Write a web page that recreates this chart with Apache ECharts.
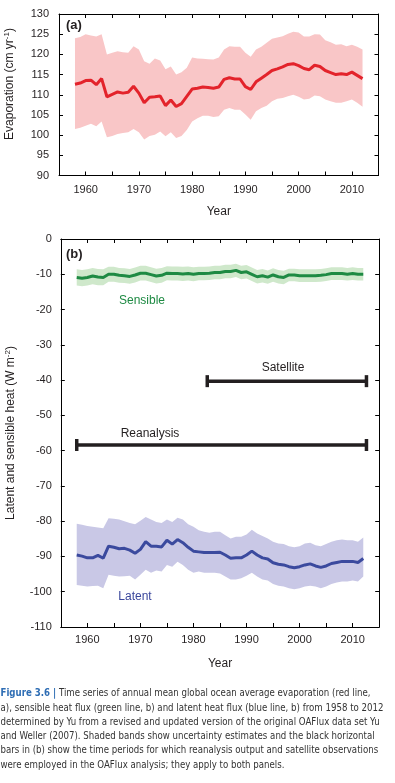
<!DOCTYPE html>
<html><head><meta charset="utf-8">
<script src="https://cdn.jsdelivr.net/npm/echarts@6/dist/echarts.min.js"></script>
<style>html,body{margin:0;padding:0;background:#fff}#c{width:395px;height:783px}</style>
</head><body><div id="c"></div>
<script>
var years = [1958,1959,1960,1961,1962,1963,1964,1965,1966,1967,1968,1969,1970,1971,1972,1973,1974,1975,1976,1977,1978,1979,1980,1981,1982,1983,1984,1985,1986,1987,1988,1989,1990,1991,1992,1993,1994,1995,1996,1997,1998,1999,2000,2001,2002,2003,2004,2005,2006,2007,2008,2009,2010,2011,2012];

var evap = [112.6,112.9,113.5,113.6,112.5,114.0,109.5,110.1,110.7,110.4,110.6,112.1,110.4,108.0,109.4,109.5,109.7,107.3,108.7,107.1,107.8,109.6,111.4,111.6,111.9,111.8,111.6,111.9,113.8,114.2,113.9,113.9,112.0,111.3,113.2,114.1,115.0,116.0,116.4,116.9,117.5,117.7,117.2,116.5,116.2,117.3,117.0,116.0,115.5,115.0,115.2,115.0,115.6,114.8,114.0];
var evapHi = [124.0,124.3,125.0,124.7,124.4,125.0,120.0,120.4,120.8,120.5,120.4,122.0,121.2,118.3,117.7,119.0,118.5,116.3,117.0,115.0,115.6,116.7,119.2,119.0,118.9,118.8,118.7,119.2,121.2,122.0,121.9,121.9,120.4,119.4,121.2,121.9,122.9,123.9,124.2,124.5,125.1,125.6,125.4,124.4,124.4,125.0,124.9,123.5,123.0,122.4,122.5,122.0,122.4,121.9,121.2];
var evapLo = [101.5,101.8,102.3,102.8,102.2,103.4,99.5,99.8,100.3,100.5,100.7,101.5,100.7,98.9,99.8,100.1,100.9,99.7,100.7,99.3,99.8,101.3,103.4,104.2,104.8,104.8,104.5,104.7,106.3,106.7,106.3,106.3,105.1,103.8,105.9,106.7,107.3,108.4,109.0,109.2,109.6,110.0,109.5,108.8,109.0,109.8,109.6,108.8,108.4,108.0,108.0,108.4,108.8,108.0,107.0];

var sensible = [-10.9,-11.1,-10.9,-10.5,-10.8,-10.9,-10.0,-10.0,-10.3,-10.4,-10.6,-10.2,-9.7,-9.7,-10.1,-10.5,-10.3,-9.7,-9.8,-9.8,-9.9,-9.8,-10.0,-9.8,-9.8,-9.7,-9.5,-9.5,-9.2,-9.2,-8.9,-9.5,-9.3,-10.0,-10.7,-10.4,-10.8,-10.2,-10.7,-10.9,-10.2,-10.2,-10.4,-10.4,-10.4,-10.4,-10.3,-10.1,-9.8,-9.8,-9.8,-10.0,-9.8,-10.0,-10.0];
var sensibleHi = [-8.6,-8.8,-8.6,-8.2,-8.5,-8.6,-7.9,-7.9,-8.2,-8.3,-8.5,-8.1,-7.6,-7.6,-8.0,-8.4,-8.2,-7.7,-7.8,-7.8,-7.9,-7.8,-8.0,-7.9,-7.9,-7.8,-7.6,-7.6,-7.3,-7.3,-7.0,-7.6,-7.4,-8.1,-8.8,-8.5,-8.9,-8.3,-8.8,-9.0,-8.4,-8.4,-8.6,-8.6,-8.6,-8.6,-8.5,-8.3,-8.0,-8.0,-8.0,-8.2,-8.0,-8.2,-8.2];
var sensibleLo = [-13.2,-13.4,-13.2,-12.8,-13.1,-13.1,-12.1,-12.1,-12.4,-12.5,-12.7,-12.3,-11.8,-11.8,-12.2,-12.6,-12.4,-11.7,-11.8,-11.8,-11.9,-11.8,-12.0,-11.7,-11.7,-11.6,-11.4,-11.4,-11.1,-11.1,-10.8,-11.4,-11.2,-11.9,-12.6,-12.3,-12.7,-12.1,-12.6,-12.8,-12.0,-12.0,-12.2,-12.2,-12.2,-12.2,-12.1,-11.9,-11.6,-11.6,-11.6,-11.8,-11.6,-11.8,-11.8];

var latent = [-89.6,-89.9,-90.4,-90.4,-89.7,-90.5,-87.1,-87.4,-87.8,-87.7,-88.2,-89.1,-88.0,-85.8,-87.1,-87.1,-87.3,-85.4,-86.5,-85.2,-86.1,-87.4,-88.5,-88.7,-88.9,-88.9,-88.9,-88.8,-89.6,-90.5,-90.4,-90.4,-89.6,-88.5,-89.6,-90.4,-90.7,-91.8,-92.2,-92.4,-92.9,-93.2,-92.9,-92.4,-92.1,-92.7,-93.1,-92.7,-92.0,-91.7,-91.4,-91.4,-91.4,-91.7,-90.6];
var latentHi = [-80.7,-81.0,-81.4,-81.6,-81.8,-82.0,-79.2,-79.3,-79.5,-80.0,-80.5,-80.9,-79.9,-78.8,-79.5,-80.2,-80.5,-79.5,-80.2,-79.0,-79.5,-80.9,-81.6,-82.6,-83.0,-83.3,-83.0,-83.0,-84.0,-84.9,-84.4,-84.4,-83.8,-82.4,-83.5,-84.2,-84.9,-85.8,-86.3,-86.5,-87.1,-87.4,-87.1,-86.3,-86.1,-86.8,-87.1,-86.5,-85.8,-85.4,-85.2,-85.4,-85.4,-85.8,-84.6];
var latentLo = [-98.1,-98.3,-98.5,-98.4,-98.3,-99.0,-95.2,-95.5,-95.7,-95.6,-95.5,-96.5,-95.2,-93.8,-94.6,-94.0,-94.3,-92.4,-92.9,-91.5,-92.4,-93.8,-94.6,-94.3,-94.6,-94.6,-94.6,-94.8,-95.7,-96.5,-96.5,-96.2,-95.5,-94.6,-95.7,-96.5,-96.8,-97.8,-98.3,-98.5,-99.0,-99.3,-99.0,-98.5,-98.3,-98.5,-99.0,-98.5,-97.8,-97.4,-97.1,-97.1,-96.8,-97.1,-95.7];

var reanalysisYears = [1958, 2012.6];
var reanalysisLevel = -58.4;
var satelliteYears = [1982.6, 2012.6];
var satelliteLevel = -40.3;

var yearLabels = [1960,1970,1980,1990,2000,2010];

var captionHead = "Figure 3.6 |";
var captionLines = [
  " Time series of annual mean global ocean average evaporation (red line,",
  "a), sensible heat flux (green line, b) and latent heat flux (blue line, b) from 1958 to 2012",
  "determined by Yu from a revised and updated version of the original OAFlux data set Yu",
  "and Weller (2007). Shaded bands show uncertainty estimates and the black horizontal",
  "bars in (b) show the time periods for which reanalysis output and satellite observations",
  "were employed in the OAFlux analysis; they apply to both panels."
];

var FONT = 'Liberation Sans, Arial, sans-serif';
var TXT = '#231f20';

function pairs(v){ return years.map(function(y,i){ return [y, v[i]]; }); }

function band(xi, yi, hi, lo, color){
  return {
    type:'custom', xAxisIndex:xi, yAxisIndex:yi, silent:true, z:1,
    data:[[years[0], hi[0]]],
    renderItem:function(params, api){
      var pts = [];
      for (var i=0;i<years.length;i++) pts.push(api.coord([years[i], hi[i]]));
      for (var j=years.length-1;j>=0;j--) pts.push(api.coord([years[j], lo[j]]));
      return {type:'polygon', shape:{points:pts}, style:{fill:color, stroke:null}};
    }
  };
}

function xAx(gi, pos, labels){
  return {
    type:'value', gridIndex:gi, position:pos, min:1955, max:2015, interval:5,
    axisLine:{show:true, onZero:false, lineStyle:{color:'#000', width:1}},
    axisTick:{show:true, inside:true, length:4, lineStyle:{color:'#000'}},
    splitLine:{show:false},
    axisLabel:{show:labels, color:TXT, fontFamily:FONT, fontSize:11, margin: gi===0?9:7,
      formatter:function(v){ return (yearLabels.indexOf(v)>=0)? String(v) : ''; }},
    name: labels ? 'Year' : '', nameLocation:'middle', nameGap: gi===0?30:31,
    nameTextStyle:{color:TXT, fontFamily:FONT, fontSize:12}
  };
}
function yAx(gi, pos, labels, mn, mx, iv){
  return {
    type:'value', gridIndex:gi, position:pos, min:mn, max:mx, interval:iv,
    axisLine:{show:true, onZero:false, lineStyle:{color:'#000', width:1}},
    axisTick:{show:true, inside:true, length:4, lineStyle:{color:'#000'}},
    splitLine:{show:false},
    axisLabel:{show:labels, color:TXT, fontFamily:FONT, fontSize:11, margin: gi===0?10:9}
  };
}

var chart = echarts.init(document.getElementById('c'), null, {renderer:'canvas'});
var graphics = [
  {type:'text', left:66, top:19, style:{text:'(a)', font:'bold 13px '+FONT, fill:TXT}},
  {type:'text', left:66, top:248, style:{text:'(b)', font:'bold 13px '+FONT, fill:TXT}},
  {type:'text', x:10, y:84, rotation:Math.PI/2,
    style:{text:'Evaporation (cm yr{s|-1})', align:'center', verticalAlign:'middle', font:'12px '+FONT, fill:TXT,
      rich:{s:{fontSize:8, fontFamily:FONT, fill:TXT, padding:[0,0,7,0]}}}},
  {type:'text', x:11, y:433, rotation:Math.PI/2,
    style:{text:'Latent and sensible heat (W m{s|-2})', align:'center', verticalAlign:'middle', font:'12px '+FONT, fill:TXT,
      rich:{s:{fontSize:8, fontFamily:FONT, fill:TXT, padding:[0,0,7,0]}}}},
  {type:'text', x:142, y:301, style:{text:'Sensible', align:'center', verticalAlign:'middle', font:'12px '+FONT, fill:'#1e8a43'}},
  {type:'text', x:283, y:368, style:{text:'Satellite', align:'center', verticalAlign:'middle', font:'12px '+FONT, fill:TXT}},
  {type:'text', x:150, y:434, style:{text:'Reanalysis', align:'center', verticalAlign:'middle', font:'12px '+FONT, fill:TXT}},
  {type:'text', x:135, y:597, style:{text:'Latent', align:'center', verticalAlign:'middle', font:'12px '+FONT, fill:'#3b479c'}}
];

// caption: fit a condensed rendering to the reference text width
var CAPFONT = "'DejaVu Sans Condensed', 'Liberation Sans', sans-serif";
var CAPSIZE = 10.5;
var ctx = document.createElement('canvas').getContext('2d');
ctx.font = CAPSIZE + 'px ' + CAPFONT;
var w2 = ctx.measureText(captionLines[1]).width;
var capScale = 383 / w2;
for (var k=0;k<captionLines.length;k++){
  var t = k===0 ? '{b|'+captionHead+'}'+captionLines[k] : captionLines[k];
  graphics.push({type:'text', x:0.5, y:693.5+k*14.3, scaleX:capScale,
    style:{text:t, verticalAlign:'middle', font:CAPSIZE+'px '+CAPFONT, fill:'#333333',
      rich:{b:{fontFamily:CAPFONT, fontSize:CAPSIZE, fontWeight:'bold', fill:'#2e6db4'}}}});
}

chart.setOption({
  animation:false,
  grid:[
    {left:59, top:14, width:319.5, height:161.5},
    {left:60.8, top:239, width:318.4, height:388}
  ],
  xAxis:[xAx(0,'bottom',true), xAx(0,'top',false), xAx(1,'bottom',true), xAx(1,'top',false)],
  yAxis:[yAx(0,'left',true,90,130,5), yAx(0,'right',false,90,130,5), yAx(1,'left',true,-110,0,10), yAx(1,'right',false,-110,0,10)],
  graphic: graphics,
  series:[
    band(0,0,evapHi,evapLo,'#f9c6c7'),
    {type:'line', xAxisIndex:0, yAxisIndex:0, data:pairs(evap), showSymbol:false, z:3,
      lineStyle:{color:'#e3232b', width:3}, itemStyle:{color:'#e3232b'}},
    band(2,2,sensibleHi,sensibleLo,'#cfe8cb'),
    {type:'line', xAxisIndex:2, yAxisIndex:2, data:pairs(sensible), showSymbol:false, z:3,
      lineStyle:{color:'#1e8a43', width:3}},
    band(2,2,latentHi,latentLo,'#c9c8e6'),
    {type:'line', xAxisIndex:2, yAxisIndex:2, data:pairs(latent), showSymbol:false, z:3,
      lineStyle:{color:'#3b4a9e', width:3}},
    {type:'line', xAxisIndex:2, yAxisIndex:2, z:4,
      data:[[satelliteYears[0], satelliteLevel],[satelliteYears[1], satelliteLevel]],
      symbol:'rect', symbolSize:[3.5,12], showAllSymbol:true,
      lineStyle:{color:'#231f20', width:3.5}, itemStyle:{color:'#231f20'}},
    {type:'line', xAxisIndex:2, yAxisIndex:2, z:4,
      data:[[reanalysisYears[0], reanalysisLevel],[reanalysisYears[1], reanalysisLevel]],
      symbol:'rect', symbolSize:[3.5,12], showAllSymbol:true,
      lineStyle:{color:'#231f20', width:3.5}, itemStyle:{color:'#231f20'}}
  ]
});
</script></body></html>
